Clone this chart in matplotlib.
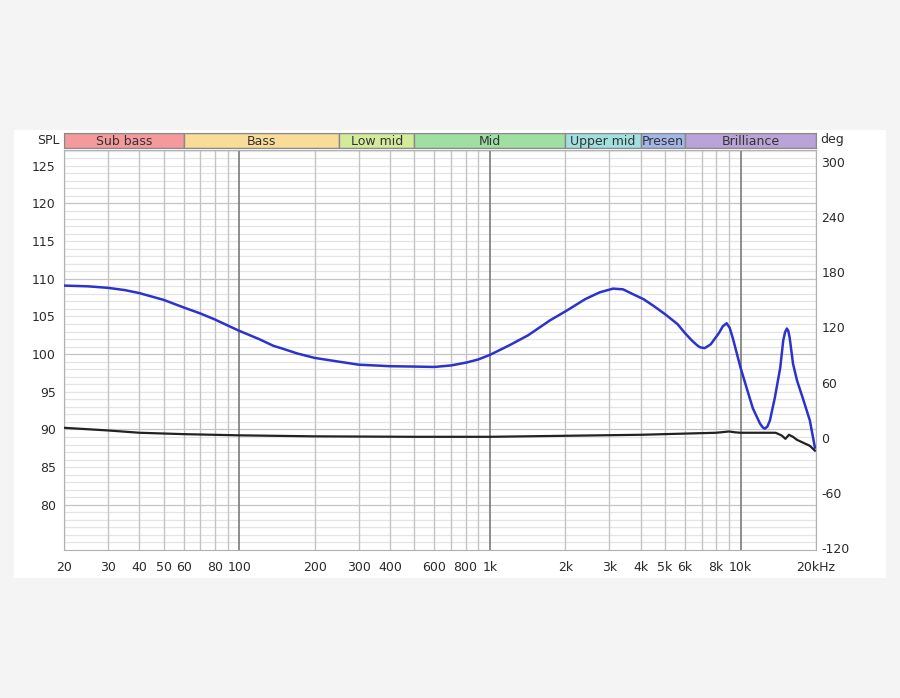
import matplotlib.pyplot as plt
from matplotlib.patches import Rectangle
import numpy as np

plt.rcParams['axes.unicode_minus'] = False

# frequency response (blue, dB SPL)
spl_freq = [20, 25, 30, 35, 40, 50, 60, 70, 80, 90, 100, 120, 137, 150, 170, 200, 250, 300,
            400, 500, 600, 700, 810, 900, 1000, 1200, 1420, 1740, 2030, 2400, 2740, 3100,
            3400, 3700, 4100, 4500, 5000, 5600, 6000, 6400, 6700, 6900, 7200, 7600, 8200,
            8500, 8800, 9050, 9320, 10000, 10600, 11200, 11950, 12250, 12500, 12800, 13100,
            13700, 14400, 14800, 15050, 15300, 15500, 15700, 16200, 16800, 17700, 18900, 19800]
spl_db = [109.1, 109.0, 108.8, 108.5, 108.1, 107.2, 106.2, 105.4, 104.6, 103.8, 103.1,
          102.0, 101.1, 100.7, 100.1, 99.5, 99.0, 98.6, 98.4, 98.35, 98.3, 98.5, 98.9, 99.3,
          99.9, 101.2, 102.5, 104.5, 105.8, 107.3, 108.2, 108.7, 108.6, 108.0, 107.3, 106.4,
          105.3, 104.0, 102.8, 101.8, 101.2, 100.9, 100.8, 101.3, 102.8, 103.7, 104.1, 103.5,
          102.1, 98.2, 95.4, 92.8, 90.8, 90.3, 90.1, 90.4, 91.2, 94.2, 98.2, 101.8, 102.9,
          103.4, 103.1, 102.2, 98.7, 96.5, 94.2, 91.2, 87.6]

# phase (black, deg)
ph_freq = [20, 30, 40, 60, 100, 200, 500, 1000, 2000, 4000, 8000, 9000, 9500, 10000, 13800,
           14600, 15100, 15600, 16200, 16800, 17700, 18900, 19800]
ph_deg = [10.9, 8.0, 5.5, 4.0, 2.7, 1.6, 1.1, 1.1, 2.2, 3.3, 5.5, 6.9, 6.0, 5.5, 5.5, 2.5,
          -1.1, 3.3, 1.0, -2.2, -5.1, -8.7, -13.9]

bands = ['Sub bass', 'Bass', 'Low mid', 'Mid', 'Upper mid', 'Presen', 'Brilliance']
band_edges = [20, 60, 250, 500, 2000, 4000, 6000, 20000]
band_colors = ['#f59a9c', '#f8dc98', '#d5eb9c', '#9fe0a2', '#a2e0e0', '#a3b6e8', '#b9a3d8']

xticks = [20, 30, 40, 50, 60, 80, 100, 200, 300, 400, 600, 800, 1000, 2000, 3000, 4000,
          5000, 6000, 8000, 10000, 20000]
xlabels = ['20', '30', '40', '50', '60', '80', '100', '200', '300', '400', '600', '800',
           '1k', '2k', '3k', '4k', '5k', '6k', '8k', '10k', '20kHz']
yticks = [80, 85, 90, 95, 100, 105, 110, 115, 120, 125]
dticks = [-120, -60, 0, 60, 120, 180, 240, 300]

W, H = 900, 698
fig = plt.figure(figsize=(9, 6.98), dpi=100, facecolor='#f4f4f4')
fig.patches.append(Rectangle((14 / W, 1 - 578 / H), 872 / W, 448 / H,
                             transform=fig.transFigure, facecolor='white', edgecolor='none', zorder=-5))

ax = fig.add_axes([64 / W, 1 - 550 / H, 752 / W, 400 / H])
ax.set_xscale('log')
ax.set_xlim(20, 20000)
ax.set_ylim(74, 127.1)
ax.set_facecolor('white')

# grid
for y in range(75, 128):
    ax.axhline(y, color='#c4c4c4' if y % 10 == 0 else '#e4e4e4', lw=0.9, zorder=1)
minor = [f * d for d in (10, 100, 1000) for f in range(2, 10)] + [20000]
for f in minor:
    if 20 <= f <= 20000:
        ax.axvline(f, color='#c4c4c4', lw=1.0, zorder=1)
for f in (100, 1000, 10000):
    ax.axvline(f, color='#7a7a7a', lw=1.2, zorder=1)

ax.plot(spl_freq, spl_db, color='#2b33cc', lw=1.8, zorder=4, solid_joinstyle='round')

for s in ax.spines.values():
    s.set_color('#b0b0b0')

ax2 = ax.twinx()
ax2.set_ylim(-122, 313)
ax2.plot(ph_freq, ph_deg, color='#222222', lw=1.6, zorder=3, solid_joinstyle='round')
ax2.set_yticks(dticks)
ax2.tick_params(length=0, labelsize=9, colors='#2a2a2a', pad=4)
for s in ax2.spines.values():
    s.set_visible(False)

ax.set_xticks(xticks)
ax.set_xticklabels(xlabels)
ax.set_xticks([], minor=True)
ax.set_yticks(yticks)
ax.tick_params(length=0, labelsize=9, colors='#2a2a2a', pad=6)
ax.tick_params(axis='x', pad=8)

# band bar
bx = fig.add_axes([64 / W, 1 - 148 / H, 752 / W, 15 / H])
bx.set_xscale('log')
bx.set_xlim(20, 20000)
bx.set_ylim(0, 1)
for name, lo, hi, c in zip(bands, band_edges[:-1], band_edges[1:], band_colors):
    bx.axvspan(lo, hi, facecolor=c, edgecolor='#8a8a8a', lw=1.0)
    bx.text(np.sqrt(lo * hi), 0.45, name, ha='center', va='center', fontsize=9, color='#333333')
bx.set_xticks([])
bx.set_xticks([], minor=True)
bx.set_yticks([])
for s in bx.spines.values():
    s.set_color('#8a8a8a')

fig.text(60 / W, 1 - 140 / H, 'SPL', ha='right', va='center', fontsize=9, color='#2a2a2a')
fig.text(820 / W, 1 - 140 / H, 'deg', ha='left', va='center', fontsize=9, color='#2a2a2a')

fig.savefig('out.png', dpi=100, facecolor=fig.get_facecolor())
